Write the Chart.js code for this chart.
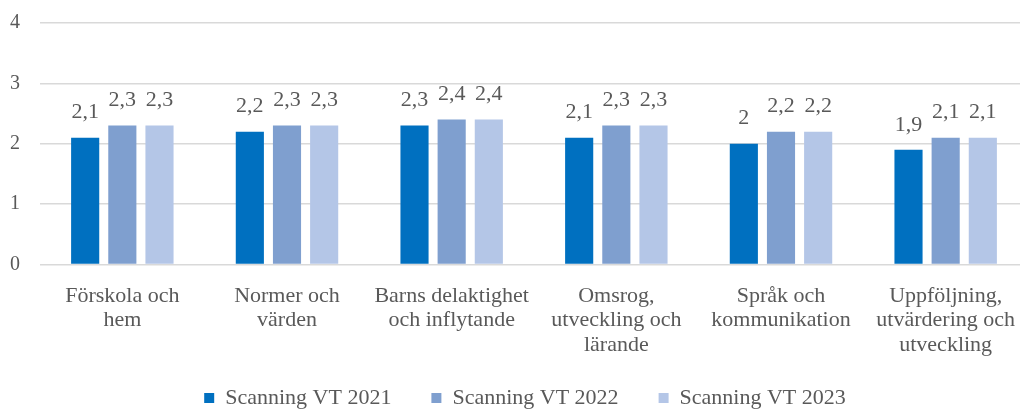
<!DOCTYPE html>
<html>
<head>
<meta charset="utf-8">
<script src="https://cdn.jsdelivr.net/npm/chart.js@4/dist/chart.umd.min.js"></script>
<style>
  body { margin: 0; background: #fff; overflow: hidden; }
  #wrap { width: 1036px; height: 410px; }
</style>
</head>
<body>
<div id="wrap"><canvas id="myChart"></canvas></div>
<script>
var categories = [
    ["Förskola och", "hem"],
    ["Normer och", "värden"],
    ["Barns delaktighet", "och inflytande"],
    ["Omsrog,", "utveckling och", "lärande"],
    ["Språk och", "kommunikation"],
    ["Uppföljning,", "utvärdering och", "utveckling"]
];
var seriesNames = ["Scanning VT 2021", "Scanning VT 2022", "Scanning VT 2023"];
var vt2021 = [2.1, 2.2, 2.3, 2.1, 2.0, 1.9];
var vt2022 = [2.3, 2.3, 2.4, 2.3, 2.2, 2.1];
var vt2023 = [2.3, 2.3, 2.4, 2.3, 2.2, 2.1];
var yTicks = [0, 1, 2, 3, 4];

var colors = ['#0070C0', '#7F9FCF', '#B4C6E7'];
var textColor = '#595959';
var fontFamily = '"Liberation Serif", "DejaVu Serif", serif';

// draw the value above each bar, with decimal comma
const valueLabels = {
    id: 'valueLabels',
    afterDatasetsDraw(chart) {
        const ctx = chart.ctx;
        ctx.save();
        ctx.font = '22px ' + fontFamily;
        ctx.fillStyle = textColor;
        ctx.textAlign = 'center';
        ctx.textBaseline = 'bottom';
        chart.data.datasets.forEach((ds, i) => {
            chart.getDatasetMeta(i).data.forEach((bar, j) => {
                const txt = String(ds.data[j]).replace('.', ',');
                ctx.fillText(txt, bar.x, bar.y - 14);
            });
        });
        ctx.restore();
    }
};

// legend needs wide gaps between items but not that much height
const legendHeight = {
    id: 'legendHeight',
    beforeInit(chart) {
        const fit = chart.legend.fit;
        chart.legend.fit = function () {
            fit.bind(chart.legend)();
            this.height = 41;
        };
    },
    afterLayout(chart) {
        chart.legend.top -= 22;
        chart.legend.left += 16;
        chart.legend.right += 16;
    }
};

const ctx = document.getElementById('myChart').getContext('2d');
const myChart = new Chart(ctx, {
    type: 'bar',
    data: {
        labels: categories,
        datasets: [
            { label: seriesNames[0], data: vt2021, backgroundColor: colors[0] },
            { label: seriesNames[1], data: vt2022, backgroundColor: colors[1] },
            { label: seriesNames[2], data: vt2023, backgroundColor: colors[2] }
        ]
    },
    options: {
        responsive: true,
        maintainAspectRatio: false,
        animation: false,
        layout: { padding: { left: -10, right: 8, top: 0, bottom: 0 } },
        datasets: {
            bar: { categoryPercentage: 0.677, barPercentage: 0.757 }
        },
        scales: {
            x: {
                grid: { display: false },
                border: { display: false },
                ticks: {
                    color: textColor,
                    font: { family: fontFamily, size: 22, lineHeight: 1.1 },
                    maxRotation: 0,
                    autoSkip: false,
                    padding: 12
                }
            },
            y: {
                min: 0,
                max: 4,
                afterBuildTicks: (axis) => { axis.ticks = yTicks.map(v => ({ value: v })); },
                afterFit: (axis) => { axis.paddingTop = 23; },
                grid: { color: '#d9d9d9', lineWidth: 1.5, drawTicks: false },
                border: { display: false },
                ticks: {
                    color: textColor,
                    font: { family: fontFamily, size: 20 },
                    padding: 20
                }
            }
        },
        plugins: {
            legend: {
                position: 'bottom',
                labels: {
                    color: textColor,
                    font: { family: fontFamily, size: 22 },
                    boxWidth: 10,
                    boxHeight: 10,
                    padding: 40
                }
            },
            tooltip: { enabled: false }
        }
    },
    plugins: [valueLabels, legendHeight]
});
</script>
</body>
</html>
